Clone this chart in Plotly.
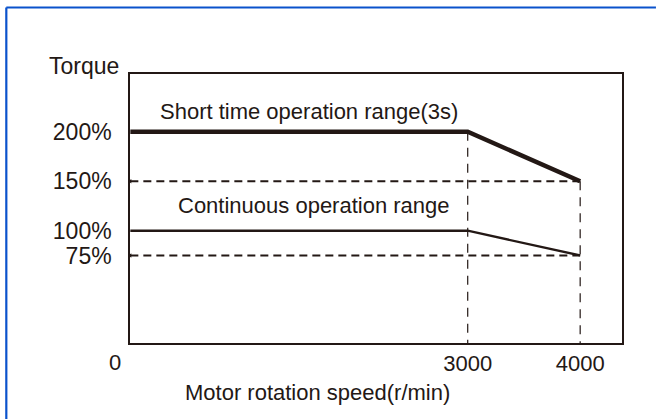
import plotly.graph_objects as go

# Motor speed (r/min) and torque (%) break points
speed = [0, 3000, 4000]
short_time_torque = [200, 200, 150]      # short time operation range (3s)
continuous_torque = [100, 100, 75]       # continuous operation range

# Reference levels and tick labels
ref_levels = [150, 75]
y_ticks = [200, 150, 100, 75]
y_tick_text = ["200%", "150%", "100%", "75%"]
x_ticks = [3000, 4000]
x_tick_text = ["3000", "4000"]

x_range = [-3, 4372]
y_range = [-13.4, 258.3]

INK = "#231815"
FONT = "Liberation Sans, Arial, sans-serif"

fig = go.Figure()

# dashed guide lines at the reduced torque levels
for lvl in ref_levels:
    fig.add_trace(go.Scatter(
        x=[speed[0], speed[-1]], y=[lvl, lvl], mode="lines",
        line=dict(color=INK, width=2, dash="8px,5px"),
        hoverinfo="skip", showlegend=False))
    fig.add_trace(go.Scatter(
        x=[speed[0]], y=[lvl], mode="markers",
        marker=dict(symbol="triangle-left", size=4, color=INK),
        hoverinfo="skip", showlegend=False))

# dashed verticals at the speed break points
for sx, top in [(speed[1], short_time_torque[1]), (speed[2], short_time_torque[2])]:
    fig.add_trace(go.Scatter(
        x=[sx, sx], y=[top, y_range[0]], mode="lines",
        line=dict(color=INK, width=1.2, dash="9px,7px"),
        hoverinfo="skip", showlegend=False))

fig.add_trace(go.Scatter(
    x=speed, y=continuous_torque, mode="lines",
    line=dict(color=INK, width=2.3), hoverinfo="skip", showlegend=False))
fig.add_trace(go.Scatter(
    x=speed, y=short_time_torque, mode="lines",
    line=dict(color=INK, width=4.5), hoverinfo="skip", showlegend=False))

text_font = dict(family=FONT, size=22, color=INK)

annotations = [
    dict(text="Short time operation range(3s)", x=250, y=220, xref="x", yref="y",
         xanchor="left", yanchor="middle", showarrow=False, font=text_font),
    dict(text="Continuous operation range", x=410, y=125, xref="x", yref="y",
         xanchor="left", yanchor="middle", showarrow=False, font=text_font),
    dict(text="Torque", x=0, y=1, xref="paper", yref="paper", xanchor="right",
         yanchor="middle", xshift=-9, yshift=8, showarrow=False,
         font=dict(family=FONT, size=23, color=INK)),
    dict(text="Motor rotation speed(r/min)", x=0.3815, y=0, xref="paper", yref="paper",
         xanchor="center", yanchor="middle", yshift=-49, showarrow=False, font=text_font),
    dict(text="0", x=speed[0], y=0, xref="x", yref="paper", xanchor="center",
         yanchor="middle", xshift=-15, yshift=-19, showarrow=False, font=text_font),
]

# blue frame along the top and left of the page
FRAME = "#0a52cc"
frame = [
    dict(type="line", xref="paper", yref="paper", x0=-0.2514, x1=1.069,
         y0=1.2472, y1=1.2472, line=dict(color=FRAME, width=2.2)),
    dict(type="line", xref="paper", yref="paper", x0=-0.2514, x1=-0.2514,
         y0=-0.283, y1=1.2472, line=dict(color=FRAME, width=2.2)),
]

fig.update_layout(
    width=656, height=419,
    margin=dict(l=130, r=34, t=74, b=76),
    paper_bgcolor="white", plot_bgcolor="white",
    annotations=annotations,
    shapes=frame,
    xaxis=dict(range=x_range, showgrid=False, zeroline=False,
               showline=True, mirror=True, linecolor=INK, linewidth=1.5,
               tickvals=x_ticks, ticktext=x_tick_text, ticks="",
               ticklabelstandoff=0, tickfont=text_font, fixedrange=True),
    yaxis=dict(range=y_range, showgrid=False, zeroline=False,
               showline=True, mirror=True, linecolor=INK, linewidth=1.5,
               tickvals=y_ticks, ticktext=y_tick_text, ticks="",
               ticklabelstandoff=12, tickfont=dict(family=FONT, size=23, color=INK),
               fixedrange=True),
)

fig.write_html("out.html", config={"displayModeBar": False})
